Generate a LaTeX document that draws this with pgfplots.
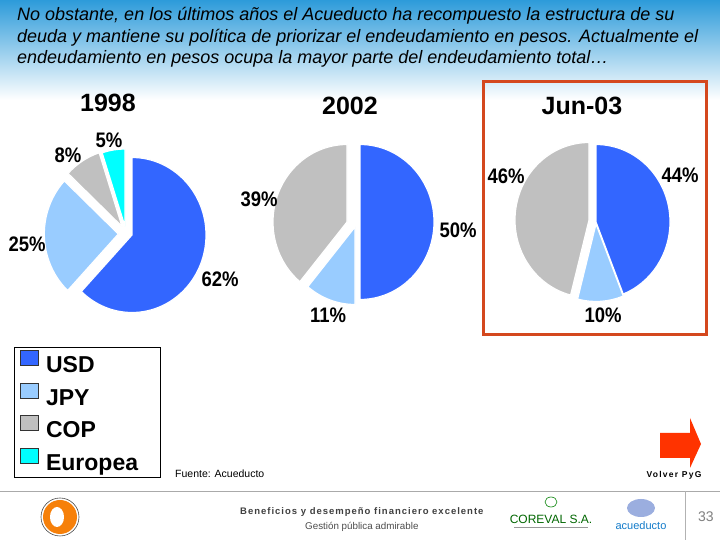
\documentclass[border=0pt]{standalone}
\usepackage{pgfplots}
\pgfplotsset{compat=1.18}
\usepackage{fontspec}
\setmainfont{Liberation Sans}
\newfontfamily\lab[FakeStretch=0.88]{Liberation Sans}
\definecolor{usd}{RGB}{51,102,255}
\definecolor{jpy}{RGB}{153,204,255}
\definecolor{cop}{RGB}{192,192,192}
\definecolor{eur}{RGB}{0,255,255}
\definecolor{hdr}{RGB}{45,155,218}
\definecolor{boxred}{RGB}{212,72,30}
\definecolor{arrowred}{RGB}{255,51,0}
\definecolor{lgray}{RGB}{170,170,170}

% slice: start(%), value(%), colour, explode dx (px), explode dy (px, up)
\newcommand\slice[5]{\pgfplotsextra{%
  \pgfmathsetmacro\aS{90-3.6*(#1)}%
  \pgfmathsetmacro\aE{90-3.6*(#1+#2)}%
  \pgfmathsetmacro\ox{(#4)/74}%
  \pgfmathsetmacro\oy{(#5)/77.5}%
  \pgfmathsetmacro\px{\ox+cos(\aS)}%
  \pgfmathsetmacro\py{\oy+sin(\aS)}%
  \fill[#3,draw=white,line width=1.2bp,line join=round]
    (axis cs:\ox,\oy) -- (axis cs:\px,\py)
    arc[start angle=\aS,end angle=\aE,x radius=74bp,y radius=77.5bp] -- cycle;}}

\pgfplotsset{pie/.style={hide axis, scale only axis, width=192.4bp, height=201.5bp,
  xmin=-1.3,xmax=1.3,ymin=-1.3,ymax=1.3, clip=false, anchor=center}}

\begin{document}
\begin{tikzpicture}
\path[use as bounding box] (0bp,0bp) rectangle (720bp,540bp);
\fill[white] (0bp,0bp) rectangle (720bp,540bp);

\begin{scope}[x=1bp, y=-1bp, shift={(0bp,540bp)}]
\shade[top color=hdr, bottom color=white] (0,0) rectangle (720,100);
% header text
\begin{scope}[every node/.style={anchor=base west, inner sep=0pt, font=\fontsize{18bp}{20bp}\selectfont\itshape}]
\node at (17,21) {No obstante, en los últimos años el Acueducto ha recompuesto la estructura de su};
\node at (17,42.5) {deuda y mantiene su política de priorizar el endeudamiento en pesos. Actualmente el};
\node at (17,64) {endeudamiento en pesos ocupa la mayor parte del endeudamiento total…};
\end{scope}
% highlight box
\draw[boxred, line width=3bp] (483.3,81.7) rectangle (706.7,335);
\end{scope}

% ---- 1998 ----
\begin{axis}[pie, at={(132bp,305bp)},
  legend image code/.code={\draw[#1,line width=0.7bp] (0bp,7bp) rectangle (18bp,22bp);},
  legend style={at={(-0.1133,-0.0558)}, anchor=north west, draw=black, line width=0.8bp, fill=white,
    font=\fontsize{23bp}{26bp}\selectfont\bfseries,
    inner xsep=6bp, inner ysep=3bp, row sep=6.2bp, column sep=7bp,
    nodes={inner sep=0bp, text height=22bp, text depth=4bp},
    cells={anchor=base west}},
  ]
\slice{0}{62}{usd}{0}{0}
\slice{62}{25}{jpy}{-13.7}{1}
\slice{87}{8}{cop}{-10}{8.5}
\slice{95}{5}{eur}{-7}{8.5}
\addlegendimage{fill=usd, draw=black!80}
\addlegendentry{\makebox[108bp][l]{USD}}
\addlegendimage{fill=jpy, draw=black!80}
\addlegendentry{\makebox[108bp][l]{JPY}}
\addlegendimage{fill=cop, draw=black!80}
\addlegendentry{\makebox[108bp][l]{COP}}
\addlegendimage{fill=eur, draw=black!80}
\addlegendentry{\makebox[108bp][l]{Europea}}
\end{axis}

% ---- 2002 ----
\begin{axis}[pie, at={(360bp,318bp)}]
\slice{0}{50}{usd}{0}{0}
\slice{50}{11}{jpy}{-5}{-5}
\slice{61}{39}{cop}{-13}{0}
\end{axis}

% ---- Jun-03 ----
\begin{axis}[pie, at={(596bp,318bp)}]
\slice{0}{44}{usd}{0}{0}
\slice{44}{10}{jpy}{0}{-2}
\slice{54}{46}{cop}{-7}{2}
\end{axis}

\begin{scope}[x=1bp, y=-1bp, shift={(0bp,540bp)}]
% titles
\begin{scope}[every node/.style={inner sep=0pt, font=\fontsize{25bp}{28bp}\selectfont\bfseries}]
\node at (108,103) {1998};
\node at (350,106) {2002};
\node at (582,106) {Jun-03};
\end{scope}

% percentage labels
\begin{scope}[every node/.style={inner sep=0pt, font=\fontsize{21bp}{24bp}\lab\bfseries}]
\node at (109,140) {5\%};
\node at (68,155) {8\%};
\node at (27,244) {25\%};
\node at (220,279) {62\%};
\node at (259,199) {39\%};
\node at (458,230) {50\%};
\node at (328,315) {11\%};
\node at (506,176) {46\%};
\node at (680,175) {44\%};
\node at (603,315) {10\%};
\end{scope}

% source
\node[anchor=base west, inner sep=0pt, font=\fontsize{10.5bp}{12bp}\selectfont] at (175,478) {Fuente: Acueducto};

% arrow
\fill[arrowred] (660,433) -- (690,433) -- (690,418) -- (701,444) -- (690,468) -- (690,458) -- (660,458) -- cycle;
\node[anchor=base, inner sep=0pt, font=\fontsize{8.5bp}{10bp}\selectfont\bfseries\addfontfeatures{LetterSpace=15}] at (674,477.5) {Volver PyG};

% footer
\draw[lgray, line width=1.5bp] (0,491.5) -- (720,491.5);
\draw[black!30, line width=1bp] (685,491.5) -- (685,540);
\node[inner sep=0pt, text=black!50, font=\fontsize{14bp}{16bp}\selectfont] at (706,517) {33};
\node[anchor=base west, inner sep=0pt, text=black!75, font=\fontsize{9.5bp}{11bp}\selectfont\bfseries\addfontfeatures{LetterSpace=10.5}] at (240,514.5) {Beneficios y desempeño financiero excelente};
\node[anchor=base west, inner sep=0pt, text=black!70, font=\fontsize{9.8bp}{11bp}\selectfont] at (305,530) {Gestión pública admirable};

% logos (approximate)
\fill[orange!85!brown] (60,517) circle (17);
\fill[white] (57,517) ellipse (7 and 10);
\draw[black!70, line width=0.6bp] (60,517) circle (19);
\draw[black!50!green, line width=0.6bp] (551,502) ellipse (6 and 5);
\node[inner sep=0pt, text=black!60!green, font=\fontsize{12bp}{13bp}\selectfont] at (551,519) {COREVAL S.A.};
\draw[black!40, line width=0.5bp] (514,527) -- (588,527);
\fill[cyan!40!blue!40] (641,508) ellipse (14 and 9);
\node[inner sep=0pt, text=cyan!60!blue, font=\fontsize{11bp}{12bp}\selectfont] at (641,526) {acueducto};
\end{scope}
\end{tikzpicture}
\end{document}
